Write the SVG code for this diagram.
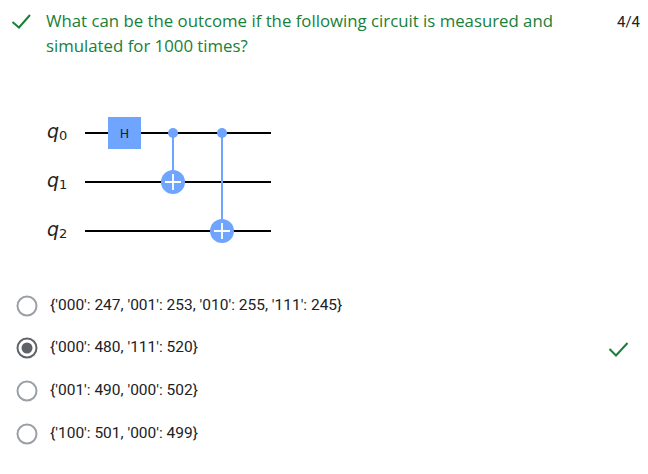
<svg xmlns="http://www.w3.org/2000/svg" width="648" height="474" viewBox="0 0 648 474">
<style>
.q{font-family:"Open Sans","Noto Sans",sans-serif;font-size:16.800px;fill:#188038}
.o{font-family:Roboto,"Liberation Sans",sans-serif;font-size:15.500px;fill:#202124}
.n{font-family:Roboto,"Liberation Sans",sans-serif;font-size:15px;fill:#202124}
.l{font-family:"DejaVu Sans",sans-serif;font-style:oblique;font-size:19px;fill:#222}
.s{font-family:"DejaVu Sans",sans-serif;font-size:13px;fill:#222}
.w{stroke:#000;stroke-width:2;fill:none}
.b{stroke:#6fa4ff;stroke-width:2;fill:none}
.p{stroke:#fff;stroke-width:1.800;fill:none}
.r{fill:#fff;stroke:#9aa0a6;stroke-width:2}
.c{fill:none;stroke:#188038;stroke-width:2}
</style>
<rect width="648" height="474" fill="#fff"/>
<g id="question">
<path class="c" d="M12.500 22 L19 27.500 L30 15"/>
<text class="q" x="46" y="27">What can be the outcome if the following circuit is measured and</text>
<text class="q" x="46" y="52">simulated for 1000 times?</text>
<text class="n" x="617" y="27">4/4</text>
</g>
<g id="connectors">
<path class="w" d="M85 133H271M85 182H271M85 231H271"/>
<path class="b" d="M173 133V182M222 133V231"/>
</g>
<g id="q0"><text class="l" x="47" y="138">q</text><text class="s" x="59" y="140">0</text></g>
<g id="q1"><text class="l" x="47" y="187">q</text><text class="s" x="59" y="189">1</text></g>
<g id="q2"><text class="l" x="47" y="236">q</text><text class="s" x="59" y="238">2</text></g>
<g id="h"><rect x="108" y="117" width="33" height="32" fill="#6fa4ff"/><text x="124.500" y="138" text-anchor="middle" font-family="DejaVu Sans,sans-serif" font-size="12.500" fill="#222">H</text></g>
<g id="ctrl0"><circle cx="173" cy="133" r="5" fill="#6fa4ff"/></g>
<g id="ctrl1"><circle cx="222" cy="133" r="5" fill="#6fa4ff"/></g>
<g id="cx1"><circle cx="173" cy="182" r="12" fill="#6fa4ff"/><path class="p" d="M165 182H181M173 174V190"/></g>
<g id="cx2"><circle cx="222" cy="231" r="12" fill="#6fa4ff"/><path class="p" d="M214 231H230M222 223V239"/></g>
<g id="opt1"><circle class="r" cx="27" cy="306" r="9.500"/><text class="o" x="50" y="310">{'000': 247, '001': 253, '010': 255, '111': 245}</text></g>
<g id="opt2"><circle cx="27" cy="348" r="9.500" fill="#fff" stroke="#5f6368" stroke-width="2"/><circle cx="27" cy="348" r="5.500" fill="#5f6368"/><text class="o" x="50" y="352">{'000': 480, '111': 520}</text></g>
<g id="opt3"><circle class="r" cx="27" cy="391" r="9.500"/><text class="o" x="50" y="395">{'001': 490, '000': 502}</text></g>
<g id="opt4"><circle class="r" cx="27" cy="434" r="9.500"/><text class="o" x="50" y="438">{'100': 501, '000': 499}</text></g>
<g id="tick"><path class="c" d="M609.500 349 L616 355.500 L627.500 343"/></g>
</svg>
